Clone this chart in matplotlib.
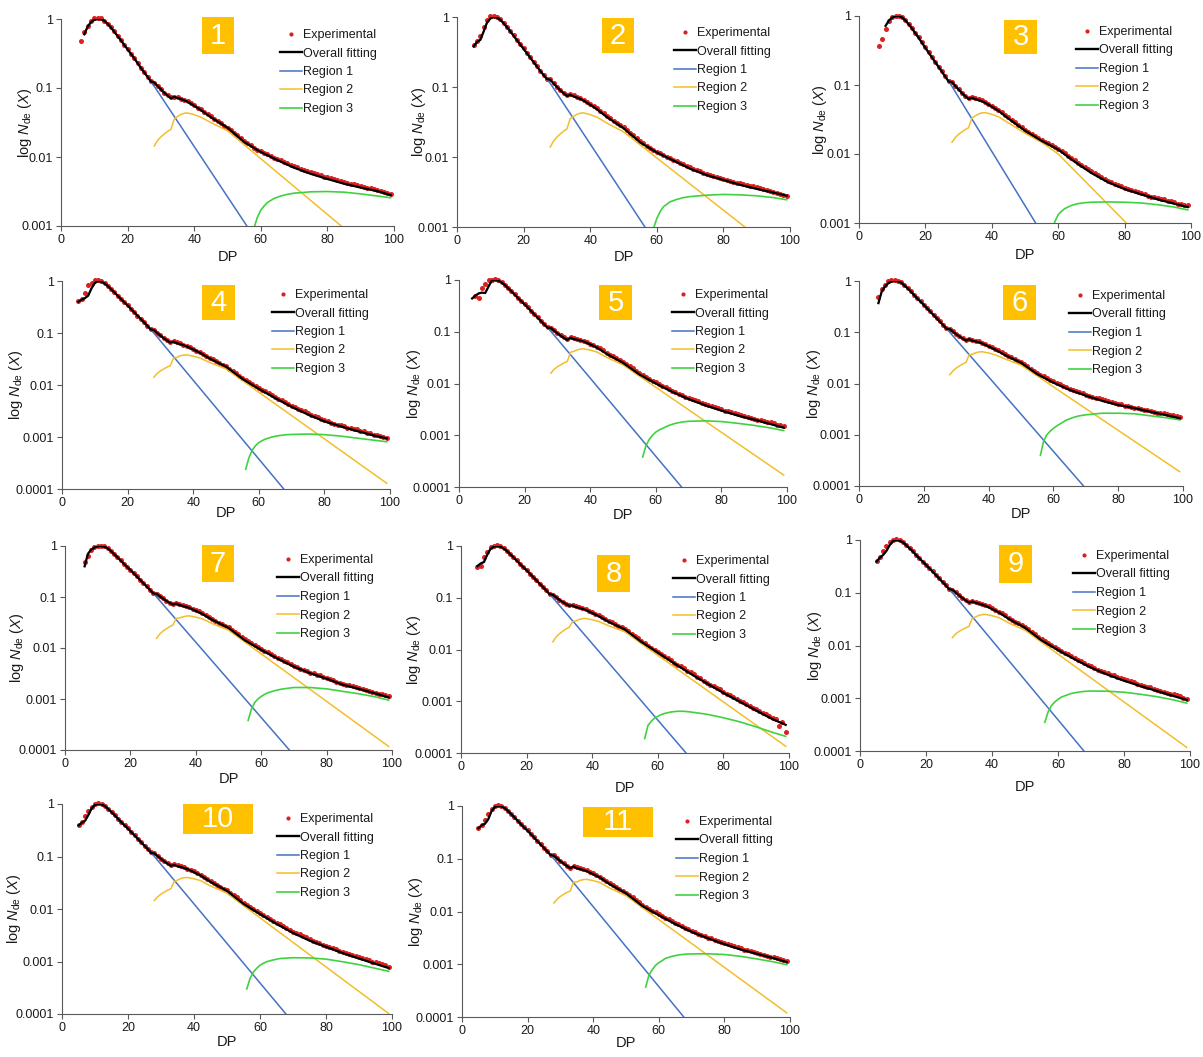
import numpy as np
import matplotlib
matplotlib.use("Agg")
import matplotlib.pyplot as plt
from matplotlib.lines import Line2D
from matplotlib.patches import Rectangle

plt.rcParams['font.family'] = ['Liberation Sans', 'DejaVu Sans']
plt.rcParams['mathtext.fontset'] = 'custom'
plt.rcParams['mathtext.rm'] = 'Liberation Sans'
plt.rcParams['mathtext.it'] = 'Liberation Sans:italic'

# ---------------- data ----------------
panel_labels = ["1", "2", "3", "4", "5", "6", "7", "8", "9", "10", "11"]
series_names = ["Experimental", "Overall fitting", "Region 1", "Region 2", "Region 3"]
x_ticks = [0, 20, 40, 60, 80, 100]
y_ticks_3 = [1, 0.1, 0.01, 0.001]
y_ticks_4 = [1, 0.1, 0.01, 0.001, 0.0001]
y_tick_labels = {1: "1", 0.1: "0.1", 0.01: "0.01", 0.001: "0.001", 0.0001: "0.0001"}

r1_dp = [4, 5, 6, 7, 8, 9, 10, 11, 12, 13, 14, 15, 16, 18, 20, 22, 24, 26, 28, 70]
fit_dp = [4, 5, 6, 7, 8, 9, 10, 11, 12, 13, 14, 15, 16, 18, 20, 22, 24, 26, 27, 28, 29, 30,
          31, 32, 33, 34, 35, 36, 37, 38, 40, 42, 45, 50, 55, 60, 65, 70, 75, 80, 85, 90, 95, 99]
r2_dp = [28, 29, 30, 31, 32, 33, 34, 35, 36, 37, 38, 40, 42, 45, 50, 55, 60, 99]
r3_dp = [56, 57, 58, 59, 60, 61, 62, 64, 66, 68, 70, 75, 80, 85, 90, 95, 99]
exp_start = [6, 5, 6, 5, 5, 6, 6, 5, 5, 5, 5]

r1_1 = [None, None, None, 0.6, 0.776, 0.9, 0.97, 1.0, 0.99, 0.944, 0.851, 0.75, 0.653, 0.49, 0.363, 0.269, 0.195, 0.145, 0.106, 9.3e-5]
r1_2 = [None, 0.38, 0.44, 0.47, 0.62, 0.83, 0.95, 1.0, 0.98, 0.91, 0.815, 0.715, 0.625, 0.465, 0.35, 0.262, 0.196, 0.148, 0.113, 1.05e-4]
r1_3 = [None, None, None, None, 0.72, 0.86, 0.95, 0.99, 1.0, 0.95, 0.86, 0.755, 0.655, 0.48, 0.345, 0.25, 0.182, 0.132, 0.0955, 4.8e-5]
r1_4 = [None, 0.398, 0.437, 0.468, 0.525, 0.724, 0.912, 1.0, 0.966, 0.891, 0.794, 0.692, 0.603, 0.447, 0.339, 0.251, 0.186, 0.138, 0.1, 6.6e-5]
r1_5 = [0.44, 0.5, 0.55, 0.57, 0.56, 0.75, 0.97, 1.0, 0.966, 0.891, 0.794, 0.692, 0.603, 0.447, 0.339, 0.251, 0.186, 0.138, 0.102, 6.9e-5]
r1_6 = [None, None, 0.37, 0.62, 0.78, 0.9, 0.97, 1.0, 0.99, 0.93, 0.82, 0.72, 0.625, 0.455, 0.342, 0.252, 0.186, 0.138, 0.1, 8.9e-5]
r1_7 = [None, None, 0.4, 0.7, 0.85, 0.93, 0.98, 1.0, 0.97, 0.9, 0.8, 0.695, 0.605, 0.447, 0.339, 0.251, 0.186, 0.138, 0.1, 7.9e-5]
r1_8 = [None, 0.41, 0.46, 0.49, 0.68, 0.88, 0.97, 1.0, 0.97, 0.9, 0.8, 0.695, 0.605, 0.447, 0.339, 0.251, 0.186, 0.138, 0.1, 7.9e-5]
r1_9 = [None, 0.39, 0.46, 0.52, 0.62, 0.8, 0.95, 1.0, 0.97, 0.9, 0.8, 0.695, 0.605, 0.447, 0.339, 0.251, 0.186, 0.138, 0.1, 6.9e-5]
r1_10 = [None, 0.39, 0.44, 0.48, 0.62, 0.83, 0.96, 1.0, 0.98, 0.91, 0.805, 0.7, 0.608, 0.447, 0.339, 0.251, 0.186, 0.138, 0.1, 6.9e-5]
r1_11 = [None, 0.38, 0.43, 0.46, 0.56, 0.8, 0.95, 1.0, 0.98, 0.91, 0.805, 0.7, 0.608, 0.447, 0.339, 0.251, 0.186, 0.138, 0.1, 6.6e-5]

fit_1 = [None, None, None, 0.6, 0.776, 0.9, 0.97, 1.0, 0.99, 0.944, 0.851, 0.75, 0.653, 0.49, 0.363, 0.269, 0.195, 0.145,
         0.124, 0.12, 0.107, 0.0954, 0.0856, 0.0777, 0.0709, 0.0743, 0.0715, 0.0692, 0.0664, 0.0633, 0.0552, 0.0479,
         0.0377, 0.0266, 0.0165, 0.0118, 0.009, 0.007, 0.0057, 0.0048, 0.0041, 0.0036, 0.0032, 0.0028]
fit_2 = [None, 0.38, 0.44, 0.47, 0.62, 0.83, 0.95, 1.0, 0.98, 0.91, 0.815, 0.715, 0.625, 0.465, 0.35, 0.262, 0.196, 0.148,
         0.13, 0.127, 0.1126, 0.1002, 0.0899, 0.0815, 0.0743, 0.0772, 0.0733, 0.0706, 0.0675, 0.0641, 0.0557, 0.0482,
         0.0372, 0.0258, 0.0162, 0.0116, 0.0089, 0.0068, 0.0055, 0.0047, 0.004, 0.0035, 0.0031, 0.0028]
fit_3 = [None, None, None, None, 0.72, 0.86, 0.95, 0.99, 1.0, 0.95, 0.86, 0.755, 0.655, 0.48, 0.345, 0.25, 0.182, 0.132,
         0.112, 0.11, 0.097, 0.0858, 0.0764, 0.0689, 0.0626, 0.0653, 0.0624, 0.0604, 0.0581, 0.0554, 0.0485, 0.0423,
         0.0326, 0.0218, 0.0155, 0.0116, 0.0077, 0.0053, 0.0039, 0.0031, 0.0026, 0.0022, 0.0019, 0.0017]
fit_4 = [None, 0.398, 0.437, 0.468, 0.525, 0.724, 0.912, 1.0, 0.966, 0.891, 0.794, 0.692, 0.603, 0.447, 0.339, 0.251, 0.186, 0.138,
         0.117, 0.114, 0.1007, 0.0892, 0.0795, 0.0718, 0.0652, 0.0682, 0.0633, 0.061, 0.0584, 0.0554, 0.0482, 0.0418,
         0.0323, 0.0225, 0.0131, 0.0084, 0.0056, 0.0038, 0.0027, 0.002, 0.0016, 0.0013, 0.00107, 0.00094]
fit_5 = [0.44, 0.5, 0.55, 0.57, 0.56, 0.75, 0.97, 1.0, 0.966, 0.891, 0.794, 0.692, 0.603, 0.447, 0.339, 0.251, 0.186, 0.138,
         0.119, 0.118, 0.1046, 0.0932, 0.0837, 0.076, 0.0695, 0.0764, 0.072, 0.0702, 0.0677, 0.0648, 0.057, 0.0497,
         0.0374, 0.0251, 0.0149, 0.01, 0.0069, 0.005, 0.0038, 0.003, 0.0024, 0.002, 0.00164, 0.0014]
fit_6 = [None, None, 0.37, 0.62, 0.78, 0.9, 0.97, 1.0, 0.99, 0.93, 0.82, 0.72, 0.625, 0.455, 0.342, 0.252, 0.186, 0.138,
         0.117, 0.115, 0.1023, 0.0916, 0.0826, 0.0753, 0.0691, 0.0731, 0.0683, 0.0661, 0.0635, 0.0606, 0.0529, 0.046,
         0.036, 0.0254, 0.0152, 0.0104, 0.0075, 0.0058, 0.0046, 0.0038, 0.0033, 0.0028, 0.0024, 0.0021]
fit_7 = [None, None, 0.4, 0.7, 0.85, 0.93, 0.98, 1.0, 0.97, 0.9, 0.8, 0.695, 0.605, 0.447, 0.339, 0.251, 0.186, 0.138,
         0.117, 0.1155, 0.1033, 0.0927, 0.0839, 0.0769, 0.071, 0.0741, 0.0694, 0.0664, 0.0639, 0.061, 0.0533, 0.0465,
         0.0358, 0.0248, 0.0141, 0.0092, 0.0062, 0.0043, 0.0032, 0.0025, 0.0019, 0.00157, 0.00128, 0.00107]
fit_8 = [None, 0.41, 0.46, 0.49, 0.68, 0.88, 0.97, 1.0, 0.97, 0.9, 0.8, 0.695, 0.605, 0.447, 0.339, 0.251, 0.186, 0.138,
         0.117, 0.114, 0.1019, 0.0913, 0.0826, 0.0756, 0.0697, 0.0708, 0.066, 0.0637, 0.0611, 0.0581, 0.0506, 0.044,
         0.0344, 0.0243, 0.014, 0.0087, 0.0054, 0.0034, 0.0022, 0.00145, 0.00098, 0.00066, 0.00045, 0.00035]
fit_9 = [None, 0.39, 0.46, 0.52, 0.62, 0.8, 0.95, 1.0, 0.97, 0.9, 0.8, 0.695, 0.605, 0.447, 0.339, 0.251, 0.186, 0.138,
         0.117, 0.114, 0.1007, 0.0891, 0.0795, 0.0716, 0.065, 0.0681, 0.0644, 0.0622, 0.0595, 0.0566, 0.0492, 0.0427,
         0.0322, 0.0217, 0.0125, 0.0082, 0.0055, 0.0038, 0.0028, 0.00215, 0.0017, 0.00137, 0.0011, 0.00093]
fit_10 = [None, 0.39, 0.44, 0.48, 0.62, 0.83, 0.96, 1.0, 0.98, 0.91, 0.805, 0.7, 0.608, 0.447, 0.339, 0.251, 0.186, 0.138,
          0.117, 0.1145, 0.1012, 0.0899, 0.0805, 0.0728, 0.0664, 0.0689, 0.0652, 0.063, 0.0604, 0.0575, 0.0501, 0.0435,
          0.0328, 0.0222, 0.0125, 0.008, 0.0052, 0.0035, 0.0025, 0.0019, 0.00145, 0.00114, 0.0009, 0.00075]
fit_11 = [None, 0.38, 0.43, 0.46, 0.56, 0.8, 0.95, 1.0, 0.98, 0.91, 0.805, 0.7, 0.608, 0.447, 0.339, 0.251, 0.186, 0.138,
          0.117, 0.1145, 0.1012, 0.0898, 0.0804, 0.0727, 0.0663, 0.071, 0.0657, 0.0636, 0.0611, 0.0581, 0.0508, 0.0442,
          0.033, 0.0221, 0.0127, 0.0085, 0.0058, 0.0041, 0.0031, 0.0024, 0.0019, 0.00157, 0.0013, 0.0011]

r2_1 = [0.01445, 0.0174, 0.0196, 0.0215, 0.0235, 0.0251, 0.0355, 0.0387, 0.0415, 0.043, 0.0435, 0.041, 0.0378, 0.0316, 0.024, 0.0151, 0.00946, 0.000251]
r2_2 = [0.0139, 0.0169, 0.0192, 0.0213, 0.0234, 0.0251, 0.0355, 0.038, 0.0407, 0.0422, 0.0427, 0.0403, 0.0372, 0.0305, 0.0229, 0.0149, 0.0097, 0.00034]
r2_3 = [0.0148, 0.0173, 0.0193, 0.0209, 0.0226, 0.024, 0.0331, 0.0355, 0.038, 0.0394, 0.0398, 0.0376, 0.0347, 0.0282, 0.02, 0.0148, 0.01, 0.000126]
r2_4 = [0.0141, 0.0167, 0.0187, 0.0203, 0.0221, 0.0234, 0.0331, 0.0339, 0.0363, 0.0376, 0.038, 0.0359, 0.0331, 0.0272, 0.0204, 0.0122, 0.00726, 0.000129]
r2_5 = [0.0158, 0.0188, 0.0211, 0.023, 0.025, 0.0266, 0.0403, 0.0417, 0.0447, 0.0462, 0.0468, 0.0442, 0.0407, 0.032, 0.0229, 0.0139, 0.00845, 0.00017]
r2_6 = [0.0148, 0.0177, 0.02, 0.022, 0.024, 0.0257, 0.0363, 0.0372, 0.0398, 0.0412, 0.0417, 0.0394, 0.0363, 0.0302, 0.0229, 0.0141, 0.0086, 0.00019]
r2_7 = [0.0155, 0.0189, 0.0215, 0.0238, 0.0262, 0.0282, 0.038, 0.0389, 0.0407, 0.0422, 0.0427, 0.0403, 0.0372, 0.0302, 0.0224, 0.0131, 0.00767, 0.000117]
r2_8 = [0.0141, 0.0175, 0.0201, 0.0225, 0.0249, 0.0269, 0.0347, 0.0355, 0.038, 0.0394, 0.0398, 0.0376, 0.0347, 0.0288, 0.0219, 0.013, 0.00774, 0.000135]
r2_9 = [0.0141, 0.0166, 0.0184, 0.02, 0.0216, 0.0229, 0.0327, 0.0347, 0.0372, 0.0385, 0.0389, 0.0367, 0.0339, 0.0269, 0.0195, 0.0116, 0.00687, 0.000117]
r2_10 = [0.0145, 0.0171, 0.0192, 0.021, 0.0228, 0.0243, 0.0335, 0.0355, 0.038, 0.0394, 0.0398, 0.0376, 0.0347, 0.0275, 0.02, 0.0116, 0.0068, 0.000102]
r2_11 = [0.0145, 0.0172, 0.0193, 0.0212, 0.023, 0.0245, 0.0359, 0.0363, 0.0389, 0.0403, 0.0407, 0.0385, 0.0355, 0.0279, 0.02, 0.0118, 0.00703, 0.00012]

r3_1 = [0.000251, 0.000562, 0.000955, 0.00135, 0.0017, 0.00195, 0.00219, 0.00251, 0.00272, 0.00288, 0.00299, 0.00313, 0.00316, 0.00309, 0.00292, 0.00272, 0.00257]
r3_2 = [0.000126, 0.000316, 0.00063, 0.00095, 0.00132, 0.00166, 0.00195, 0.00229, 0.00248, 0.00263, 0.00272, 0.00285, 0.00292, 0.00288, 0.00279, 0.00263, 0.00245]
r3_3 = [0.0002, 0.0004, 0.00071, 0.00105, 0.00132, 0.00148, 0.00162, 0.0018, 0.00191, 0.00197, 0.002, 0.00202, 0.002, 0.00195, 0.00184, 0.0017, 0.00155]
r3_4 = [0.00024, 0.0004, 0.00056, 0.00068, 0.00078, 0.00085, 0.00091, 0.001, 0.00106, 0.0011, 0.00112, 0.00114, 0.00111, 0.00104, 0.00095, 0.00087, 0.00081]
r3_5 = [0.00038, 0.00063, 0.00083, 0.001, 0.00115, 0.00126, 0.00135, 0.00155, 0.0017, 0.0018, 0.00186, 0.0019, 0.00184, 0.0017, 0.00155, 0.00138, 0.00123]
r3_6 = [0.0004, 0.00076, 0.001, 0.00117, 0.00133, 0.00148, 0.00162, 0.00193, 0.00216, 0.00234, 0.00245, 0.00263, 0.00263, 0.00257, 0.00234, 0.00214, 0.00195]
r3_7 = [0.00038, 0.00063, 0.00085, 0.001, 0.00112, 0.00123, 0.00132, 0.00145, 0.00155, 0.00162, 0.00168, 0.00168, 0.00158, 0.00141, 0.00126, 0.0011, 0.00095]
r3_8 = [0.00019, 0.00034, 0.00041, 0.00047, 0.00051, 0.00055, 0.00058, 0.00062, 0.00064, 0.00064, 0.00062, 0.00056, 0.00048, 0.0004, 0.00032, 0.00025, 0.00021]
r3_9 = [0.00035, 0.00055, 0.00072, 0.00085, 0.00095, 0.00105, 0.00111, 0.00123, 0.0013, 0.00135, 0.00137, 0.00136, 0.0013, 0.00119, 0.00107, 0.00093, 0.00081]
r3_10 = [0.0003, 0.00048, 0.00063, 0.00074, 0.00085, 0.00092, 0.00099, 0.00107, 0.00114, 0.00116, 0.00118, 0.00117, 0.00111, 0.00099, 0.00087, 0.00074, 0.00065]
r3_11 = [0.00037, 0.00062, 0.00079, 0.00095, 0.00107, 0.00117, 0.00129, 0.00141, 0.0015, 0.00155, 0.00157, 0.00158, 0.00153, 0.00141, 0.00126, 0.00111, 0.00098]

exp_1 = [0.48, 0.64, 0.80, 0.95,
         1.04, 1.05, 1.03, 0.95, 0.86, 0.76, 0.66, 0.575, 0.495, 0.425,
         0.365, 0.315, 0.272, 0.232, 0.197, 0.17, 0.146, 0.125, 0.12, 0.108,
         0.096, 0.086, 0.078, 0.073, 0.075, 0.073, 0.07, 0.067, 0.064, 0.06,
         0.056, 0.052, 0.049, 0.0455, 0.042, 0.0388, 0.0358, 0.033, 0.0306, 0.0285,
         0.0267, 0.0245, 0.0225, 0.0205, 0.0187, 0.0172, 0.0159, 0.0147, 0.0137, 0.0128,
         0.0121, 0.0115, 0.0109, 0.0103, 0.0098, 0.0093, 0.0089, 0.0085, 0.0081, 0.0077,
         0.0074, 0.0071, 0.0068, 0.0065, 0.0062, 0.006, 0.0058, 0.0056, 0.0054, 0.0052,
         0.0051, 0.0049, 0.0048, 0.0046, 0.0045, 0.0044, 0.0042, 0.0041, 0.004, 0.0039,
         0.0038, 0.0037, 0.0036, 0.0035, 0.0034, 0.0033, 0.0032, 0.0031, 0.003, 0.0029]
exp_2 = [0.40, 0.46, 0.54, 0.72, 0.9,
         1.02, 1.03, 1.0, 0.93, 0.83, 0.73, 0.64, 0.55, 0.475, 0.41,
         0.355, 0.307, 0.265, 0.229, 0.198, 0.172, 0.15, 0.131, 0.128, 0.114,
         0.101, 0.091, 0.083, 0.077, 0.079, 0.076, 0.072, 0.069, 0.066, 0.062,
         0.058, 0.054, 0.05, 0.046, 0.0425, 0.039, 0.036, 0.033, 0.0305, 0.0283,
         0.0265, 0.0242, 0.0222, 0.0203, 0.0185, 0.0168, 0.0156, 0.0145, 0.0135, 0.0126,
         0.0119, 0.0113, 0.0107, 0.0101, 0.0096, 0.0092, 0.0088, 0.0083, 0.0079, 0.0075,
         0.0071, 0.0068, 0.0066, 0.0063, 0.006, 0.0058, 0.0056, 0.0054, 0.0052, 0.005,
         0.0049, 0.0047, 0.0046, 0.0044, 0.0043, 0.0042, 0.0041, 0.004, 0.0039, 0.0038,
         0.0037, 0.0036, 0.0035, 0.0034, 0.0033, 0.0032, 0.0031, 0.003, 0.0029, 0.0028]
exp_3 = [0.37, 0.46, 0.64, 0.86,
         0.97, 1.01, 1.01, 0.96, 0.87, 0.765, 0.665, 0.57, 0.49, 0.415,
         0.35, 0.298, 0.254, 0.216, 0.185, 0.158, 0.135, 0.116, 0.111, 0.098,
         0.087, 0.077, 0.07, 0.065, 0.067, 0.065, 0.062, 0.06, 0.057, 0.053,
         0.05, 0.047, 0.0438, 0.0405, 0.0372, 0.034, 0.0313, 0.0288, 0.0265, 0.0245,
         0.0226, 0.0211, 0.0197, 0.0184, 0.0172, 0.0161, 0.0151, 0.0142, 0.0134, 0.0127,
         0.012, 0.0111, 0.0103, 0.0095, 0.0088, 0.0081, 0.0075, 0.007, 0.0065, 0.006,
         0.0056, 0.0053, 0.005, 0.0047, 0.0044, 0.0041, 0.0039, 0.0037, 0.0035, 0.0034,
         0.0032, 0.0031, 0.003, 0.0029, 0.0028, 0.0027, 0.0026, 0.0025, 0.0024, 0.0024,
         0.0023, 0.0022, 0.0022, 0.0021, 0.0021, 0.002, 0.0019, 0.0019, 0.0018, 0.0018]
exp_4 = [0.42, 0.45, 0.6, 0.82, 0.93,
         1.03, 1.03, 0.98, 0.9, 0.8, 0.7, 0.61, 0.525, 0.452, 0.39,
         0.342, 0.293, 0.253, 0.217, 0.188, 0.161, 0.139, 0.12, 0.115, 0.102,
         0.09, 0.081, 0.073, 0.067, 0.069, 0.066, 0.063, 0.06, 0.057, 0.053,
         0.0495, 0.046, 0.043, 0.0398, 0.0365, 0.0335, 0.031, 0.0286, 0.0264, 0.0245,
         0.0228, 0.0205, 0.0185, 0.0167, 0.0151, 0.0137, 0.0125, 0.0115, 0.0105, 0.0096,
         0.0088, 0.0081, 0.0075, 0.0069, 0.0064, 0.0059, 0.0055, 0.0051, 0.0047, 0.0043,
         0.004, 0.0038, 0.0035, 0.0033, 0.0031, 0.0029, 0.0027, 0.0025, 0.0024, 0.0022,
         0.0021, 0.002, 0.0019, 0.0018, 0.0017, 0.0017, 0.0016, 0.0015, 0.0015, 0.0014,
         0.0014, 0.0013, 0.0013, 0.0012, 0.0012, 0.0011, 0.0011, 0.00105, 0.001, 0.00097]
exp_5 = [0.5, 0.44, 0.69, 0.82, 1.0,
         1.02, 1.03, 0.99, 0.91, 0.81, 0.705, 0.612, 0.525, 0.455, 0.395,
         0.345, 0.296, 0.256, 0.22, 0.19, 0.163, 0.141, 0.122, 0.12, 0.107,
         0.095, 0.086, 0.078, 0.073, 0.078, 0.075, 0.073, 0.07, 0.067, 0.063,
         0.059, 0.055, 0.0515, 0.0475, 0.0435, 0.0392, 0.0362, 0.0333, 0.0306, 0.0282,
         0.026, 0.0236, 0.0214, 0.0195, 0.0177, 0.0158, 0.0146, 0.0135, 0.0124, 0.0114,
         0.0105, 0.0098, 0.0091, 0.0085, 0.0079, 0.0073, 0.0069, 0.0064, 0.006, 0.0056,
         0.0053, 0.005, 0.0047, 0.0045, 0.0042, 0.004, 0.0038, 0.0036, 0.0035, 0.0033,
         0.0032, 0.003, 0.0029, 0.0028, 0.0027, 0.0026, 0.0025, 0.0024, 0.0023, 0.0022,
         0.0021, 0.002, 0.002, 0.0019, 0.0018, 0.0018, 0.0017, 0.0016, 0.0016, 0.0015]
exp_6 = [0.48, 0.7, 0.85, 0.98,
         1.03, 1.04, 1.01, 0.94, 0.835, 0.73, 0.635, 0.545, 0.465, 0.4,
         0.347, 0.296, 0.256, 0.22, 0.19, 0.163, 0.14, 0.12, 0.116, 0.104,
         0.093, 0.084, 0.077, 0.072, 0.075, 0.071, 0.069, 0.066, 0.063, 0.059,
         0.055, 0.0515, 0.048, 0.0445, 0.041, 0.0375, 0.0348, 0.0322, 0.0298, 0.0277,
         0.0258, 0.0236, 0.0215, 0.0196, 0.0178, 0.0161, 0.0149, 0.0138, 0.0128, 0.0118,
         0.011, 0.0103, 0.0096, 0.009, 0.0084, 0.0079, 0.0075, 0.0071, 0.0067, 0.0064,
         0.0061, 0.0058, 0.0055, 0.0053, 0.0051, 0.0049, 0.0047, 0.0045, 0.0043, 0.0041,
         0.004, 0.0039, 0.0037, 0.0036, 0.0035, 0.0034, 0.0033, 0.0032, 0.0031, 0.003,
         0.0029, 0.0028, 0.0027, 0.0027, 0.0026, 0.0025, 0.0024, 0.0024, 0.0023, 0.0022]
exp_7 = [0.48, 0.65, 0.84, 0.95,
         1.0, 1.01, 0.98, 0.91, 0.81, 0.705, 0.612, 0.525, 0.452, 0.39,
         0.343, 0.294, 0.254, 0.218, 0.188, 0.161, 0.139, 0.12, 0.116, 0.104,
         0.094, 0.085, 0.078, 0.073, 0.076, 0.072, 0.069, 0.066, 0.063, 0.059,
         0.0555, 0.052, 0.0485, 0.0448, 0.0412, 0.0375, 0.0345, 0.0316, 0.0292, 0.0272,
         0.0254, 0.0229, 0.0206, 0.0186, 0.0167, 0.015, 0.0137, 0.0125, 0.0115, 0.0105,
         0.0096, 0.0089, 0.0082, 0.0076, 0.007, 0.0065, 0.006, 0.0056, 0.0052, 0.0048,
         0.0045, 0.0042, 0.0039, 0.0037, 0.0035, 0.0033, 0.0032, 0.003, 0.0029, 0.0027,
         0.0026, 0.0025, 0.0024, 0.0022, 0.0021, 0.002, 0.0019, 0.00185, 0.00178, 0.0017,
         0.00164, 0.00158, 0.00152, 0.00146, 0.0014, 0.00134, 0.00128, 0.00123, 0.00118, 0.00112]
exp_8 = [0.4, 0.41, 0.62, 0.78, 0.95,
         1.02, 1.03, 0.99, 0.91, 0.81, 0.705, 0.612, 0.525, 0.452, 0.39,
         0.343, 0.294, 0.254, 0.218, 0.188, 0.161, 0.139, 0.12, 0.115, 0.103,
         0.092, 0.084, 0.077, 0.071, 0.072, 0.068, 0.066, 0.063, 0.06, 0.056,
         0.052, 0.049, 0.0455, 0.0422, 0.039, 0.0358, 0.0335, 0.031, 0.0288, 0.0268,
         0.025, 0.0225, 0.0203, 0.0183, 0.0165, 0.0146, 0.0132, 0.0119, 0.0108, 0.0098,
         0.009, 0.0082, 0.0075, 0.0068, 0.0062, 0.0056, 0.0051, 0.0047, 0.0043, 0.0039,
         0.0036, 0.0033, 0.003, 0.0028, 0.0025, 0.0023, 0.0021, 0.002, 0.0018, 0.0017,
         0.0015, 0.0014, 0.0013, 0.0012, 0.0011, 0.00102, 0.00095, 0.00088, 0.00081, 0.00075,
         0.0007, 0.00065, 0.0006, 0.00056, 0.00052, 0.00048, 0.00045, 0.00033, 0.0004, 0.00026]
exp_9 = [0.4, 0.48, 0.62, 0.78, 0.9,
         1.0, 1.03, 0.99, 0.91, 0.81, 0.705, 0.612, 0.525, 0.452, 0.39,
         0.343, 0.294, 0.254, 0.218, 0.188, 0.161, 0.139, 0.12, 0.115, 0.102,
         0.09, 0.081, 0.073, 0.067, 0.07, 0.067, 0.064, 0.061, 0.058, 0.055,
         0.051, 0.0475, 0.044, 0.0405, 0.0372, 0.0338, 0.031, 0.0285, 0.0262, 0.024,
         0.0225, 0.0202, 0.0182, 0.0164, 0.0148, 0.0131, 0.012, 0.011, 0.0101, 0.0093,
         0.0086, 0.0079, 0.0073, 0.0068, 0.0063, 0.0058, 0.0054, 0.005, 0.0046, 0.0043,
         0.004, 0.0038, 0.0035, 0.0033, 0.0031, 0.003, 0.0028, 0.0027, 0.0025, 0.0024,
         0.0023, 0.0022, 0.0021, 0.002, 0.0019, 0.0018, 0.00173, 0.00166, 0.0016, 0.00153,
         0.00146, 0.0014, 0.00134, 0.00128, 0.00123, 0.00118, 0.00113, 0.00108, 0.00103, 0.00098]
exp_10 = [0.4, 0.45, 0.58, 0.75, 0.88,
          1.0, 1.03, 1.0, 0.92, 0.82, 0.712, 0.618, 0.528, 0.455, 0.392,
          0.344, 0.295, 0.255, 0.219, 0.189, 0.162, 0.14, 0.12, 0.116, 0.103,
          0.091, 0.082, 0.074, 0.068, 0.071, 0.068, 0.065, 0.062, 0.059, 0.056,
          0.052, 0.0485, 0.045, 0.0415, 0.038, 0.0345, 0.0316, 0.029, 0.0266, 0.0245,
          0.0229, 0.0206, 0.0185, 0.0166, 0.015, 0.0131, 0.0119, 0.0109, 0.01, 0.0091,
          0.0084, 0.0077, 0.0071, 0.0065, 0.006, 0.0055, 0.0051, 0.0047, 0.0043, 0.004,
          0.0037, 0.0035, 0.0033, 0.0031, 0.0029, 0.0027, 0.0025, 0.0024, 0.0023, 0.0021,
          0.002, 0.0019, 0.0018, 0.0017, 0.0016, 0.00155, 0.00148, 0.0014, 0.00134, 0.00128,
          0.00122, 0.00116, 0.0011, 0.00105, 0.001, 0.00096, 0.00092, 0.00088, 0.00084, 0.0008]
exp_11 = [0.39, 0.44, 0.55, 0.7, 0.88,
          1.0, 1.03, 1.0, 0.92, 0.82, 0.712, 0.618, 0.528, 0.455, 0.392,
          0.344, 0.295, 0.255, 0.219, 0.189, 0.162, 0.14, 0.12, 0.116, 0.103,
          0.091, 0.082, 0.074, 0.068, 0.073, 0.069, 0.066, 0.063, 0.06, 0.057,
          0.053, 0.049, 0.0458, 0.0422, 0.0386, 0.035, 0.032, 0.0292, 0.0267, 0.0245,
          0.0228, 0.0206, 0.0186, 0.0168, 0.0152, 0.0134, 0.0123, 0.0113, 0.0104, 0.0096,
          0.0089, 0.0082, 0.0076, 0.0071, 0.0066, 0.0061, 0.0057, 0.0053, 0.0049, 0.0046,
          0.0043, 0.004, 0.0038, 0.0036, 0.0034, 0.0032, 0.0031, 0.0029, 0.0028, 0.0026,
          0.0025, 0.0024, 0.0023, 0.0022, 0.0021, 0.002, 0.0019, 0.00185, 0.00178, 0.0017,
          0.00164, 0.00158, 0.00152, 0.00146, 0.0014, 0.00135, 0.0013, 0.00125, 0.0012, 0.00115]

exp_all = [exp_1, exp_2, exp_3, exp_4, exp_5, exp_6, exp_7, exp_8, exp_9, exp_10, exp_11]
fit_all = [fit_1, fit_2, fit_3, fit_4, fit_5, fit_6, fit_7, fit_8, fit_9, fit_10, fit_11]
r1_all = [r1_1, r1_2, r1_3, r1_4, r1_5, r1_6, r1_7, r1_8, r1_9, r1_10, r1_11]
r2_all = [r2_1, r2_2, r2_3, r2_4, r2_5, r2_6, r2_7, r2_8, r2_9, r2_10, r2_11]
r3_all = [r3_1, r3_2, r3_3, r3_4, r3_5, r3_6, r3_7, r3_8, r3_9, r3_10, r3_11]
y_bottom = [0.001, 0.001, 0.001] + [0.0001] * 8

# ---------------- layout (pixels) ----------------
W, H = 1203, 1057
# x0, x1, ytop, ybot, ylabel offset, xlabel offset, number box (x0,x1,y0,y1), legend anchor (x, first row y)
layout = [
    (61, 394, 19, 226, 36, 31, (202, 234, 17, 54), (280, 37)),
    (457, 790, 17, 227, 38, 30, (602, 634, 18, 53), (674, 35)),
    (859, 1191, 16, 223, 39, 32, (1004, 1037, 20, 54), (1076, 34)),
    (62, 390, 281, 489, 46, 24, (202, 235, 285, 320), (272, 297)),
    (459, 787, 280, 487, 45, 28, (599, 632, 285, 320), (672, 297)),
    (859, 1183, 281, 486, 45, 28, (1003, 1036, 285, 320), (1069, 298)),
    (65, 392, 546, 750, 48, 29, (202, 234, 545, 582), (277, 562)),
    (461, 789, 546, 753, 47, 35, (597, 630, 555, 592), (673, 563)),
    (860, 1190, 540, 751, 45, 36, (999, 1032, 545, 583), (1073, 558)),
    (62, 392, 804, 1014, 48, 28, (183, 253, 804, 834), (277, 821)),
    (462, 790, 806, 1017, 46, 26, (583, 653, 807, 837), (676, 824)),
]

C_EXP = '#DC1F1F'
C_FIT = '#000000'
C_R1 = '#4472C4'
C_R2 = '#F2BE2A'
C_R3 = '#3FD23F'
C_BOX = '#FFC000'
C_AX = '#595959'
C_TXT = '#1a1a1a'
MS = 3.6

fig = plt.figure(figsize=(W / 100, H / 100), dpi=100)
fig.patch.set_facecolor('white')

def arr(v):
    return np.array([np.nan if a is None else a for a in v], dtype=float)

for i in range(11):
    x0, x1, yt, yb, yoff, xoff, box, leg = layout[i]
    ax = fig.add_axes([x0 / W, 1 - yb / H, (x1 - x0) / W, (yb - yt) / H])
    ax.set_yscale('log')
    ax.set_xlim(0, 100)
    ax.set_ylim(y_bottom[i], 1)

    e = exp_all[i]
    edp = np.arange(exp_start[i], exp_start[i] + len(e))
    assert edp[-1] == 99, (i, len(e))
    ax.plot(edp, e, 'o', ms=MS, color=C_EXP, mec='none', zorder=2, clip_on=False)
    ax.plot(r1_dp, arr(r1_all[i]), '-', color=C_R1, lw=1.1, zorder=3)
    ax.plot(r2_dp, arr(r2_all[i]), '-', color=C_R2, lw=1.1, zorder=3)
    ax.plot(r3_dp, arr(r3_all[i]), '-', color=C_R3, lw=1.2, zorder=3)
    ax.plot(fit_dp, arr(fit_all[i]), '-', color=C_FIT, lw=1.6, zorder=4)

    ticks = y_ticks_3 if y_bottom[i] == 0.001 else y_ticks_4
    ax.set_yticks(ticks)
    ax.set_yticklabels([y_tick_labels[t] for t in ticks])
    ax.yaxis.set_minor_locator(matplotlib.ticker.NullLocator())
    ax.set_xticks(x_ticks)
    ax.set_xticklabels([str(t) for t in x_ticks])
    for s in ['top', 'right']:
        ax.spines[s].set_visible(False)
    for s in ['left', 'bottom']:
        ax.spines[s].set_color(C_AX)
        ax.spines[s].set_linewidth(0.8)
    ax.tick_params(axis='both', direction='out', length=3.5, width=0.8, color=C_AX,
                   labelsize=9, labelcolor=C_TXT, pad=2)
    ax.set_facecolor('none')

    ax.set_xlabel('DP', fontsize=10.5, color=C_TXT)
    ax.xaxis.set_label_coords(0.5, -xoff / (yb - yt))
    ax.xaxis.label.set_va('center')
    ax.set_ylabel(r'log $N_{\mathrm{de}}$ ($X$)', fontsize=10.5, color=C_TXT)
    ax.yaxis.set_label_coords(-yoff / (x1 - x0), 0.5)
    ax.yaxis.label.set_va('center')

    handles = [
        Line2D([], [], ls='none', marker='o', ms=3.0, color=C_EXP, mec='none'),
        Line2D([], [], color=C_FIT, lw=1.7),
        Line2D([], [], color=C_R1, lw=1.1),
        Line2D([], [], color=C_R2, lw=1.1),
        Line2D([], [], color=C_R3, lw=1.2),
    ]
    lx, ly = leg
    fig.legend(handles, series_names, loc='upper left',
               bbox_to_anchor=(lx / W, 1 - (ly - 8) / H), bbox_transform=fig.transFigure,
               frameon=False, borderpad=0, borderaxespad=0, fontsize=9,
               handlelength=1.75, handletextpad=0.12, labelspacing=0.52, numpoints=1,
               labelcolor=C_TXT)

    bx0, bx1, by0, by1 = box
    fig.patches.append(Rectangle((bx0 / W, 1 - by1 / H), (bx1 - bx0) / W, (by1 - by0) / H,
                                 transform=fig.transFigure, facecolor=C_BOX, edgecolor='none',
                                 zorder=5))
    fig.text((bx0 + bx1) / 2 / W, 1 - (by0 + by1) / 2 / H, panel_labels[i], color='white',
             fontsize=21, ha='center', va='center', zorder=6)

fig.savefig('out.png', dpi=100, facecolor='white')
